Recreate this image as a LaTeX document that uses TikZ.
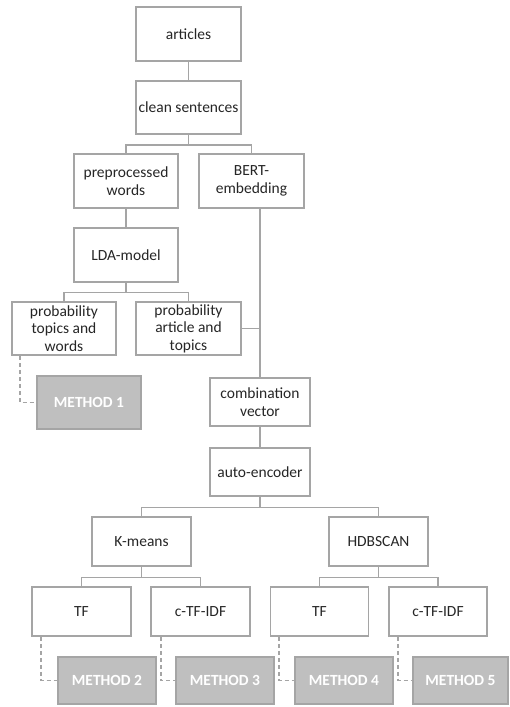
\documentclass[tikz,border=0pt]{standalone}
\usepackage{fontspec}
\setmainfont{Carlito}
\definecolor{boxgray}{HTML}{A5A5A5}
\definecolor{methodfill}{HTML}{BFBFBF}
\tikzset{
	box/.style={draw=boxgray, line width=1.8pt, fill=white, inner sep=0pt, align=center, text=black!85, font=\fontsize{15.5}{17.5}\selectfont},
	methodbox/.style={box, fill=methodfill, text=white, font=\fontsize{15.5}{17.5}\selectfont\bfseries},
	link/.style={draw=boxgray, line width=1.8pt},
	dashlink/.style={link, dashed, dash pattern=on 4pt off 3pt}
}
\begin{document}
\begin{tikzpicture}[x=1pt, y=-1pt]
		\useasboundingbox (0, 0) rectangle (509, 707);
		\node[box, minimum width=105, minimum height=54] (articles) at (188.5, 34) {articles};
		\node[box, minimum width=105, minimum height=53] (clean) at (188.5, 107.5) {clean sentences};
		\node[box, minimum width=104, minimum height=54] (prep) at (126, 181) {preprocessed\\words};
		\node[box, minimum width=105, minimum height=54] (bert) at (251.5, 181) {BERT-\\embedding};
		\node[box, minimum width=104, minimum height=54] (lda) at (126, 255) {LDA-model};
		\node[box, minimum width=104, minimum height=53] (probwords) at (64, 328.5) {probability\\topics and\\words};
		\node[box, minimum width=105, minimum height=53] (probtopics) at (188.5, 328.5) {probability\\article and\\topics};
		\node[methodbox, minimum width=104, minimum height=53] (method1) at (89, 402.5) {METHOD 1};
		\node[box, minimum width=100, minimum height=48] (combvec) at (260, 402) {combination\\vector};
		\node[box, minimum width=100, minimum height=48] (autoenc) at (260, 472) {auto-encoder};
		\node[box, minimum width=99, minimum height=49] (kmeans) at (141.5, 541.5) {K-means};
		\node[box, minimum width=99, minimum height=49] (hdbscan) at (378.5, 541.5) {HDBSCAN};
		\node[box, minimum width=99, minimum height=49] (tfkm) at (81.5, 611.5) {TF};
		\node[box, minimum width=99, minimum height=49] (ctfkm) at (200.5, 611.5) {c-TF-IDF};
		\node[box, minimum width=98, minimum height=49] (tfhdb) at (319.5, 611.5) {TF};
		\node[box, minimum width=98, minimum height=49] (ctfhdb) at (438, 611.5) {c-TF-IDF};
		\node[methodbox, minimum width=98, minimum height=47] (method2) at (107, 680.5) {METHOD 2};
		\node[methodbox, minimum width=98, minimum height=47] (method3) at (225, 680.5) {METHOD 3};
		\node[methodbox, minimum width=98, minimum height=47] (method4) at (344, 680.5) {METHOD 4};
		\node[methodbox, minimum width=95, minimum height=47] (method5) at (460.5, 680.5) {METHOD 5};
		\draw[link] (articles) -- (clean);
		\draw[link] (clean.south) -- ++(0, 10) -| (prep.north);
		\draw[link] (clean.south) ++(0, 10) -| (bert.north);
		\draw[link] (prep) -- (lda);
		\draw[link] (lda.south) -- ++(0, 9.5) -| (probwords.north);
		\draw[link] (lda.south) ++(0, 9.5) -| (probtopics.north);
		\draw[link] (bert.south -| combvec.north) -- (combvec.north);
		\draw[link] (probtopics.east) -- (probtopics.east -| combvec.north);
		\draw[link] (combvec) -- (autoenc);
		\draw[link] (autoenc.south) -- ++(0, 10.5) -| (kmeans.north);
		\draw[link] (autoenc.south) ++(0, 10.5) -| (hdbscan.north);
		\draw[link] (kmeans.south) -- ++(0, 10.5) -| (tfkm.north);
		\draw[link] (kmeans.south) ++(0, 10.5) -| (ctfkm.north);
		\draw[link] (hdbscan.south) -- ++(0, 10.5) -| (tfhdb.north);
		\draw[link] (hdbscan.south) ++(0, 10.5) -| (ctfhdb.north);
		\draw[dashlink] ([xshift=9]probwords.south west) |- (method1.west);
		\draw[dashlink] ([xshift=10]tfkm.south west) |- (method2.west);
		\draw[dashlink] ([xshift=10.5]ctfkm.south west) |- (method3.west);
		\draw[dashlink] ([xshift=9.5]tfhdb.south west) |- (method4.west);
		\draw[dashlink] ([xshift=10]ctfhdb.south west) |- (method5.west);
	\end{tikzpicture}
\end{document}
